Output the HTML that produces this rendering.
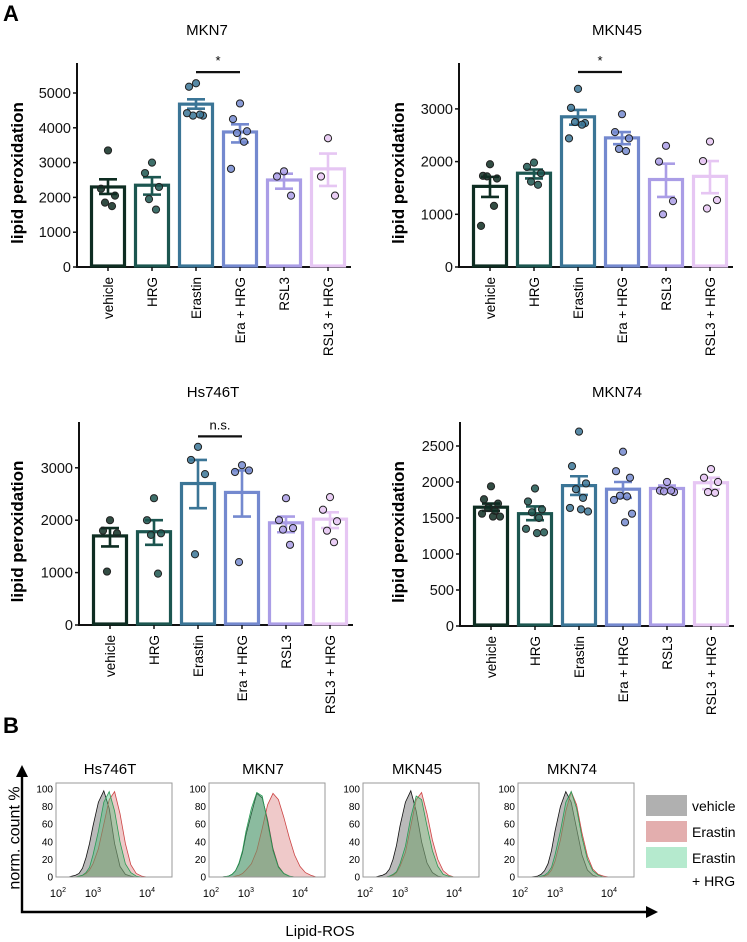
<!DOCTYPE html>
<html><head><meta charset="utf-8">
<style>
html,body{margin:0;padding:0;background:#fff;}
svg{display:block;font-family:"Liberation Sans",Arial,sans-serif;}
</style></head>
<body>
<svg id="fig" width="747" height="942" viewBox="0 0 747 942" xmlns="http://www.w3.org/2000/svg">
<text x="3" y="21" font-size="22" font-weight="bold">A</text>
<text x="3" y="733" font-size="22" font-weight="bold">B</text>
<g id="bars"></g>
<g id="hist"></g>
</svg>
<script>
const categories = ["vehicle","HRG","Erastin","Era + HRG","RSL3","RSL3 + HRG"];
const colors = ["#0e2d22","#1c5650","#3b7596","#7489cf","#aa9de6","#e6c6f3"];
const chartTitles = ["MKN7","MKN45","Hs746T","MKN74"];
const tickLabels = [[0,1000,2000,3000,4000,5000],[0,1000,2000,3000],[0,1000,2000,3000],[0,500,1000,1500,2000,2500]];
const means = [[2300,2350,4680,3880,2500,2820],[1530,1780,2850,2450,1660,1720],[1700,1780,2700,2530,1950,2020],[1650,1560,1950,1900,1910,1990]];
const semLow = [[2100,2080,4550,3580,2250,2330],[1330,1680,2700,2330,1330,1400],[1500,1530,2230,2070,1770,1850],[1600,1470,1820,1780,1870,1900]];
const semHigh = [[2520,2580,4820,4100,2680,3260],[1710,1850,2980,2560,1960,2010],[1850,2000,3150,2950,2070,2150],[1700,1660,2080,2000,1950,2060]];
const points = [
 [[3350,2250,2050,1850,1750],[3000,2700,2300,1950,1650],[5280,5180,4350,4350,4380,4420],[4700,4250,3900,3850,3600,2820],[2750,2600,2050],[3700,2600,2050]],
 [[1950,1730,1680,1720,1160,780],[1980,1900,1780,1620,1560],[3380,3020,2730,2750,2700,2440],[2900,2560,2440,2240,2200],[2300,2000,1250,1000],[2380,2010,1270,1110]],
 [[2000,1800,1750,1020],[2420,2000,1750,1720,980],[3400,3150,2880,1350],[3050,2920,2950,1200],[2420,2000,1850,1820,1530],[2440,2200,1980,1800,1580]],
 [[1940,1760,1700,1640,1600,1560,1520,1520],[1910,1730,1620,1580,1500,1350,1300,1290],[2700,2220,1980,1900,1780,1640,1590,1620],[2420,2150,2060,1810,1800,1750,1560,1440],[2000,1880,1860,1870,1880],[2180,2060,2000,1860,1850]]
];
const sigLabels = ["*","*","n.s.",""];
const sigPairs = [[2,3],[2,3],[2,3],null];
const sigValue = [5600,3700,3600,0];

// hist data
const histTitles = ["Hs746T","MKN7","MKN45","MKN74"];
const logX = [2.3,2.5,2.6,2.7,2.8,2.9,3.0,3.1,3.2,3.3,3.4,3.5,3.6,3.7,3.8,3.9,4.0,4.1,4.2,4.3];
const histVehicle = [
 [0,2,4,10,22,38,58,85,98,78,38,12,3,1,0,0,0,0,0,0],
 [0,1,3,7,15,28,48,72,95,90,65,32,12,4,1,0,0,0,0,0],
 [0,2,4,9,20,36,58,85,98,75,40,16,5,1,0,0,0,0,0,0],
 [0,1,3,7,15,30,52,80,97,85,55,25,8,2,0,0,0,0,0,0]];
const histErastin = [
 [0,0,1,2,4,8,15,32,60,88,97,72,38,14,4,1,0,0,0,0],
 [0,0,0,1,2,4,8,15,30,55,82,95,88,68,45,25,12,5,2,0],
 [0,0,0,1,2,5,12,28,58,88,96,72,42,20,7,2,0,0,0,0],
 [0,0,0,1,3,8,18,42,75,97,82,50,24,9,3,1,0,0,0,0]];
const histHRG = [
 [0,0,1,2,5,11,25,52,85,97,75,40,15,5,1,0,0,0,0,0],
 [0,1,3,7,16,30,52,78,96,92,62,30,11,4,1,0,0,0,0,0],
 [0,0,0,1,3,6,15,35,68,92,88,58,30,12,3,1,0,0,0,0],
 [0,0,1,2,5,11,25,52,85,97,78,45,20,7,2,0,0,0,0,0]];
const histTicks = [0,20,40,60,80,100];
const legendLabels = ["vehicle","Erastin","Erastin","+ HRG"];

const NS="http://www.w3.org/2000/svg";
function mk(tag,attrs,parent){const e=document.createElementNS(NS,tag);for(const k in attrs)e.setAttribute(k,attrs[k]);parent.appendChild(e);return e;}

const layouts=[
 {ax:77,bottom:267,top:63,per:34.8/1000,ylx:17,tx:207,ty:35},
 {ax:459,bottom:267,top:63,per:52.7/1000,ylx:398,tx:617,ty:35},
 {ax:79,bottom:625,top:422,per:52.4/1000,ylx:17,tx:213,ty:397},
 {ax:460,bottom:626,top:422,per:72/1000,ylx:398,tx:617,ty:397}];
const jitter=[0,-7,7,-3,4,-9,9,2];
const barsG=document.getElementById('bars');
layouts.forEach((L,c)=>{
 const g=mk('g',{},barsG);
 
 
 const yS=v=>L.bottom-v*L.per;
 const xS=i=>L.ax+13+i*44+18;
 const t=mk('text',{x:L.tx,y:L.ty,'font-size':15,'text-anchor':'middle'},g);t.textContent=chartTitles[c];
 
 const yl=mk('text',{x:L.ylx,y:(L.top+L.bottom)/2+8,'font-size':17,'font-weight':'bold','text-anchor':'middle',transform:`rotate(-90 ${L.ylx} ${(L.top+L.bottom)/2+8})`,dy:'0.35em'},g);yl.textContent='lipid peroxidation';
 
 const axis=mk('path',{d:`M${L.ax},${L.top}V${L.bottom}H${L.ax+274}`,stroke:'#111','stroke-width':2,fill:'none'},g);
 
 tickLabels[c].forEach(v=>{
  mk('line',{x1:L.ax-4,x2:L.ax,y1:yS(v),y2:yS(v),stroke:'#111','stroke-width':1.5},g);
  const tl=mk('text',{x:L.ax-6,y:yS(v)+5,'font-size':14.5,'text-anchor':'end',fill:'#111'},g);tl.textContent=v;
  
 });
 categories.forEach((cat,i)=>{
  const cx=xS(i),col=colors[i];
  const b=mk('rect',{x:cx-16.5,y:yS(means[c][i]),width:33,height:L.bottom-yS(means[c][i])-1,fill:'#fff',stroke:col,'stroke-width':3.2},g);
  
  const e=mk('path',{d:`M${cx},${yS(semLow[c][i])}V${yS(semHigh[c][i])}M${cx-9},${yS(semLow[c][i])}H${cx+9}M${cx-9},${yS(semHigh[c][i])}H${cx+9}`,stroke:col,'stroke-width':2.6,fill:'none'},g);
  
  points[c][i].forEach((v,k)=>{
   const p=mk('circle',{cx:cx+jitter[k%8],cy:yS(v),r:3.6,fill:col,stroke:'#222','stroke-width':1,'fill-opacity':0.85},g);
   
  });
  mk('line',{x1:cx,x2:cx,y1:L.bottom,y2:L.bottom+4,stroke:'#111','stroke-width':1.5},g);
  const xl=mk('text',{x:cx+5,y:L.bottom+10,'font-size':13.5,'text-anchor':'end',transform:`rotate(-90 ${cx+5} ${L.bottom+10})`},g);xl.textContent=cat;
  
 });
 if(sigPairs[c]){
  const [a,b2]=sigPairs[c];const sy=yS(sigValue[c]);
  const sl=mk('line',{x1:xS(a),x2:xS(b2),y1:sy,y2:sy,stroke:'#111','stroke-width':2.2},g);
  
  const st=mk('text',{x:(xS(a)+xS(b2))/2,y:sy-7,'font-size':13,'text-anchor':'middle'},g);st.textContent=sigLabels[c];
  
 }
});

// Panel B
const hG=document.getElementById('hist');
const boxX=[56,209,363,518],bw=116,bTop=783,bBot=877;
const hy=v=>bBot-v*0.88;
function lx(bx,l){return l<3?bx+2+(l-2)*35:bx+37+(l-3)*54;}
const outer=mk('path',{d:'M22,775V912H650',stroke:'#000','stroke-width':2.4,fill:'none'},hG);

mk('path',{d:'M16,777L22,765L28,777Z',fill:'#000'},hG);
mk('path',{d:'M646,906L658,912L646,918Z',fill:'#000'},hG);
const yt=mk('text',{x:14,y:838,'font-size':16,'text-anchor':'middle',transform:'rotate(-90 14 838)',dy:'0.35em'},hG);yt.textContent='norm. count %';

const xt=mk('text',{x:320,y:936,'font-size':15,'text-anchor':'middle'},hG);xt.textContent='Lipid-ROS';

boxX.forEach((bx,p)=>{
 const g=mk('g',{},hG);
 
 const tt=mk('text',{x:bx+bw/2-4,y:774,'font-size':15,'text-anchor':'middle'},g);tt.textContent=histTitles[p];
 
 const series=[[histVehicle[p],'rgba(130,130,130,0.55)','#111'],[histErastin[p],'rgba(215,120,120,0.4)','#c44'],[histHRG[p],'rgba(70,190,120,0.4)','#2a9a55']];
 series.forEach(([vals,fill,stroke],si)=>{
  let d=`M${lx(bx,logX[0])},${hy(0)}`;
  vals.forEach((v,k)=>{d+=`L${lx(bx,logX[k]).toFixed(1)},${hy(v).toFixed(1)}`;});
  d+=`L${lx(bx,logX[logX.length-1])},${hy(0)}Z`;
  const a=mk('path',{d,fill,stroke,'stroke-width':0.8},g);
  
 });
 const bxr=mk('rect',{x:bx,y:bTop,width:bw,height:bBot-bTop,fill:'none',stroke:'#999','stroke-width':1},g);
 
 histTicks.forEach(v=>{
  const l=mk('text',{x:bx-3,y:hy(v)+3.5,'font-size':10,'text-anchor':'end'},g);l.textContent=v;
  
 });
 [2,3,4].forEach(e=>{
  const l=mk('text',{x:lx(bx,e),y:897,'font-size':11,'text-anchor':'middle'},g);
  l.innerHTML='10<tspan font-size="7" dy="-5">'+e+'</tspan>';
  
 });
});
const legCols=['rgba(150,150,150,0.75)','rgba(215,140,140,0.7)','rgba(150,225,185,0.7)'];
legCols.forEach((c,i)=>{
 const r=mk('rect',{x:646,y:795+i*26,width:41,height:21,fill:c},hG);
 
});
legendLabels.forEach((t,i)=>{
 const l=mk('text',{x:692,y:811+i*26-(i==3?3:0),'font-size':14},hG);l.textContent=t;
 
});
</script>
</body></html>
